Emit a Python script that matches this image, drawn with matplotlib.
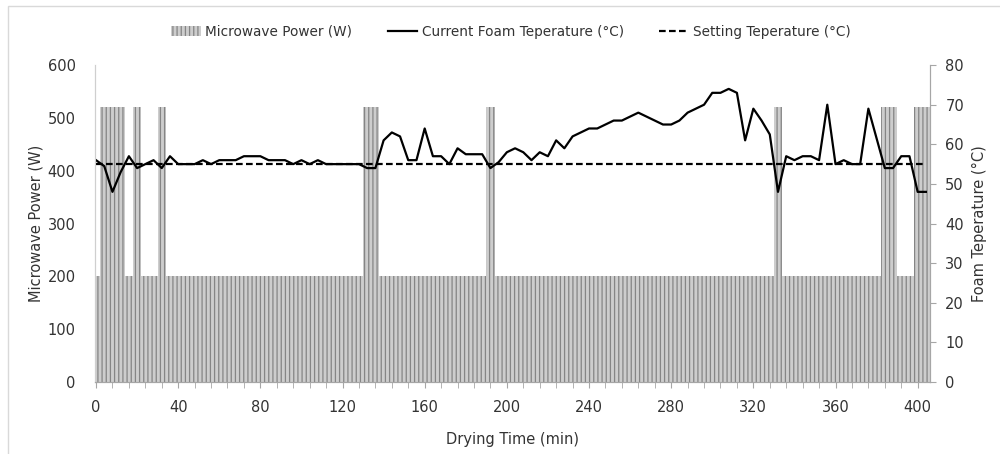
import matplotlib
matplotlib.use('Agg')
import matplotlib.pyplot as plt
from matplotlib.patches import Rectangle
from matplotlib.ticker import MultipleLocator

plt.rcParams['font.family'] = 'DejaVu Sans'
plt.rcParams['hatch.linewidth'] = 0.9

# Drying run sampled every 4 min
drying_time = list(range(0, 405, 4))

# Microwave power (W)
power = [200, 520, 520, 520, 200, 520, 200, 200, 520, 200,
         200, 200, 200, 200, 200, 200, 200, 200, 200, 200,
         200, 200, 200, 200, 200, 200, 200, 200, 200, 200,
         200, 200, 200, 520, 520, 200, 200, 200, 200, 200,
         200, 200, 200, 200, 200, 200, 200, 200, 520, 200,
         200, 200, 200, 200, 200, 200, 200, 200, 200, 200,
         200, 200, 200, 200, 200, 200, 200, 200, 200, 200,
         200, 200, 200, 200, 200, 200, 200, 200, 200, 200,
         200, 200, 200, 520, 200, 200, 200, 200, 200, 200,
         200, 200, 200, 200, 200, 200, 520, 520, 200, 200,
         520, 520]

# Current foam temperature (°C)
foam_temp = [56, 54.5, 48, 53, 57, 54, 55, 56, 54, 57,
             55, 55, 55, 56, 55, 56, 56, 56, 57, 57,
             57, 56, 56, 56, 55, 56, 55, 56, 55, 55,
             55, 55, 55, 54, 54, 61, 63, 62, 56, 56,
             64, 57, 57, 55, 59, 57.5, 57.5, 57.5, 54, 55.5,
             58, 59, 58, 56, 58, 57, 61, 59, 62, 63,
             64, 64, 65, 66, 66, 67, 68, 67, 66, 65,
             65, 66, 68, 69, 70, 73, 73, 74, 73, 61,
             69, 66, 62.5, 48, 57, 56, 57, 57, 56, 70,
             55, 56, 55, 55, 69, 61.5, 54, 54, 57, 57,
             48, 48]

# Setting temperature (°C)
set_temp = [55] * len(drying_time)

fig = plt.figure(figsize=(10, 4.54), dpi=100)
ax1 = fig.add_axes([0.095, 0.1586, 0.835, 0.698])
ax2 = ax1.twinx()

# Bars for power
bars = ax1.bar(drying_time, power, width=4, align='center',
               facecolor='#cdcdcd', edgecolor='#858585', linewidth=0,
               hatch='||||', label='Microwave Power (W)', zorder=1)

# Temperature lines
l1, = ax2.plot(drying_time, foam_temp, color='black', linewidth=1.6,
               label='Current Foam Teperature (°C)')
l2, = ax2.plot(drying_time, set_temp, color='black', linewidth=1.6,
               linestyle=(0, (3, 1.5)), label='Setting Teperature (°C)')

text_color = '#333333'
axis_color = '#a6a6a6'

ax1.set_xlim(-0.5, 406)
ax1.set_ylim(0, 600)
ax2.set_ylim(0, 80)
ax1.set_yticks(range(0, 601, 100))
ax2.set_yticks(range(0, 81, 10))
ax1.set_xticks(range(0, 401, 40))
ax1.xaxis.set_minor_locator(MultipleLocator(8))

ax1.tick_params(axis='x', which='both', direction='out', length=4,
                color=axis_color, labelsize=10.5, labelcolor=text_color, pad=9)
ax1.tick_params(axis='y', length=0, labelsize=10.5, labelcolor=text_color, pad=14)
ax2.tick_params(axis='y', direction='out', length=4, color=axis_color,
                labelsize=10.5, labelcolor=text_color, pad=7)

for ax in (ax1, ax2):
    ax.spines['top'].set_visible(False)
    ax.spines['left'].set_color('#cfcfcf')
    ax.spines['right'].set_color(axis_color)
    ax.spines['bottom'].set_color(axis_color)

ax1.set_xlabel('Drying Time (min)', fontsize=10.5, color=text_color, labelpad=12)
ax1.set_ylabel('Microwave Power (W)', fontsize=10.5, color=text_color, labelpad=3)
ax2.set_ylabel('Foam Teperature (°C)', fontsize=10.5, color=text_color, labelpad=6)

fig.legend(handles=[bars, l1, l2], loc='center', ncol=3,
           bbox_to_anchor=(0.511, 0.93), frameon=False, fontsize=9.8,
           handlelength=2.2, handletextpad=0.3, columnspacing=2.6,
           labelcolor=text_color)

# Light chart-area border
fig.patches.append(Rectangle((0.008, -0.01), 1.0, 0.997, transform=fig.transFigure,
                             fill=False, edgecolor='#d9d9d9', linewidth=1.0))

plt.savefig('out.png', dpi=100)
